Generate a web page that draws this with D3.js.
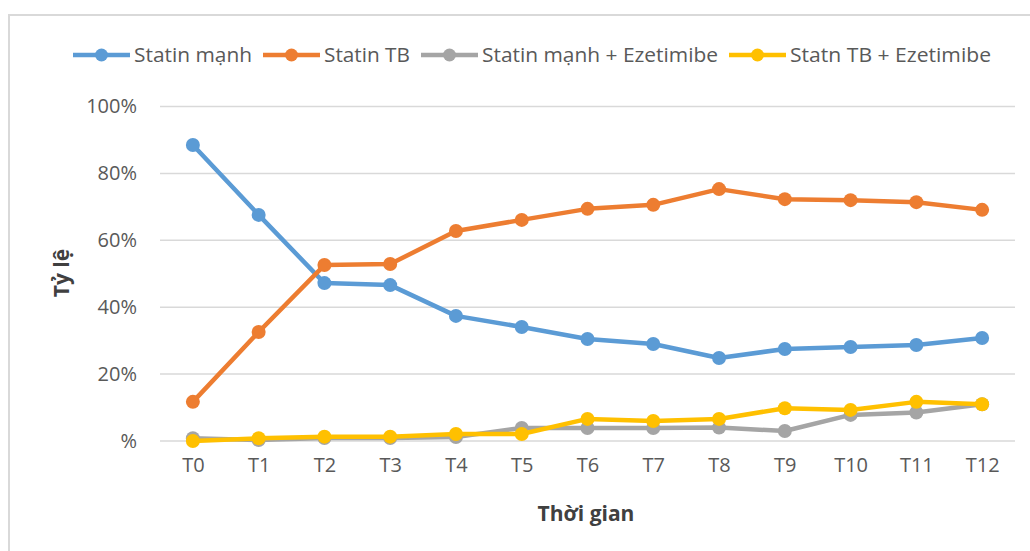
<!DOCTYPE html>
<html>
<head>
<meta charset="utf-8">
<script src="https://cdn.jsdelivr.net/npm/d3@7"></script>
<style>
  html, body { margin: 0; padding: 0; background: #fff; }
  svg { display: block; font-family: "Open Sans", "Noto Sans", sans-serif; }
</style>
</head>
<body>
<svg id="chart" width="1030" height="551"></svg>
<script>
const categories = ["T0","T1","T2","T3","T4","T5","T6","T7","T8","T9","T10","T11","T12"];
const seriesNames = ["Statin mạnh", "Statin TB", "Statin mạnh + Ezetimibe", "Statn TB + Ezetimibe"];
const statinManh = [0.885, 0.676, 0.472, 0.466, 0.374, 0.341, 0.305, 0.290, 0.248, 0.275, 0.281, 0.287, 0.308];
const statinTB   = [0.117, 0.326, 0.526, 0.529, 0.628, 0.661, 0.694, 0.706, 0.753, 0.723, 0.720, 0.714, 0.691];
const manhEze    = [0.008, 0.003, 0.009, 0.009, 0.012, 0.039, 0.039, 0.039, 0.040, 0.030, 0.078, 0.085, 0.110];
const tbEze      = [0.000, 0.008, 0.013, 0.013, 0.021, 0.021, 0.066, 0.060, 0.066, 0.098, 0.093, 0.117, 0.110];
const yTicks = [0, 0.2, 0.4, 0.6, 0.8, 1.0];
const yTickLabels = ["%", "20%", "40%", "60%", "80%", "100%"];
const colors = ["#5B9BD5", "#ED7D31", "#A5A5A5", "#FFC000"];

const series = [statinManh, statinTB, manhEze, tbEze];

const svg = d3.select("#chart");

// outer frame (top and left edges visible)
svg.append("rect").attr("x", 9).attr("y", 15).attr("width", 1040).attr("height", 560)
  .attr("fill", "#fff").attr("stroke", "#d9d9d9").attr("stroke-width", 2);

const x = d3.scalePoint().domain(categories).range([160, 1015]).padding(0.5);
const y = d3.scaleLinear().domain([0, 1]).range([441, 106.5]);

// gridlines
svg.append("g").selectAll("line").data(yTicks).join("line")
  .attr("x1", 160).attr("x2", 1015)
  .attr("y1", d => y(d)).attr("y2", d => y(d))
  .attr("stroke", "#d9d9d9").attr("stroke-width", 1.5);

// y axis labels
const yAxis = d3.axisLeft(y).tickValues(yTicks).tickFormat((d, i) => yTickLabels[i]).tickSize(0).tickPadding(0);
const gy = svg.append("g").attr("transform", "translate(137,0)").call(yAxis);
gy.select(".domain").remove();
gy.selectAll("text").attr("fill", "#595959").style("font-size", "20px").style("font-family", "\"Open Sans\", sans-serif");

// x axis labels
const xAxis = d3.axisBottom(x).tickSize(0).tickPadding(0);
const gx = svg.append("g").attr("transform", "translate(0,458)").call(xAxis);
gx.select(".domain").remove();
gx.selectAll("text").attr("fill", "#595959").style("font-size", "20px").style("font-family", "\"Open Sans\", sans-serif");

// axis titles
svg.append("text").attr("x", 586).attr("y", 521).attr("text-anchor", "middle")
  .attr("fill", "#404040").style("font-size", "21px").style("font-weight", "bold").text("Thời gian");
svg.append("text").attr("transform", "translate(69,273) rotate(-90)").attr("text-anchor", "middle")
  .attr("fill", "#404040").style("font-size", "21px").style("font-weight", "bold").text("Tỷ lệ");

// lines
const line = d3.line().x((d, i) => x(categories[i])).y(d => y(d));
series.forEach((vals, s) => {
  const g = svg.append("g");
  g.append("path").datum(vals).attr("d", line).attr("fill", "none")
    .attr("stroke", colors[s]).attr("stroke-width", 4.5).attr("stroke-linejoin", "round");
  g.selectAll("circle").data(vals).join("circle")
    .attr("cx", (d, i) => x(categories[i])).attr("cy", d => y(d)).attr("r", 7)
    .attr("fill", colors[s]);
});

// legend
const legend = svg.append("g");
let lx = 73;
const ly = 55;
const textWidths = [118, 86, 236, 201];
seriesNames.forEach((name, i) => {
  const g = legend.append("g");
  g.append("line").attr("x1", lx).attr("x2", lx + 57).attr("y1", ly).attr("y2", ly)
    .attr("stroke", colors[i]).attr("stroke-width", 4.5);
  g.append("circle").attr("cx", lx + 28.5).attr("cy", ly).attr("r", 6.5).attr("fill", colors[i]);
  g.append("text").attr("x", lx + 61).attr("y", ly + 7).attr("fill", "#595959")
    .style("font-size", "20px").text(name)
    .attr("textLength", textWidths[i]).attr("lengthAdjust", "spacingAndGlyphs");
  lx += 61 + textWidths[i] + 11;
});
</script>
</body>
</html>
